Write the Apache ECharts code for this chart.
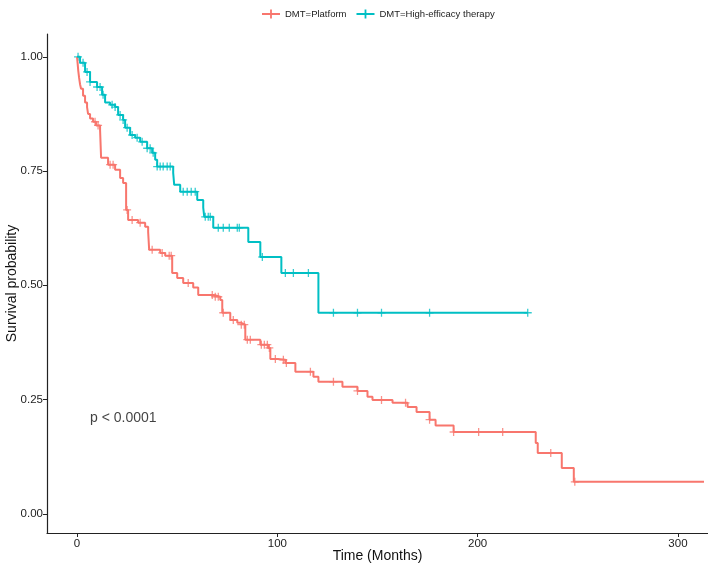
<!DOCTYPE html>
<html>
<head>
<meta charset="utf-8">
<script src="https://cdn.jsdelivr.net/npm/echarts@6/dist/echarts.min.js"></script>
<style>
  html, body { margin: 0; padding: 0; background: #fff; }
  #main { width: 708px; height: 568px; }
</style>
</head>
<body>
<div id="main"></div>
<script>
// Platform group, KM steps (time in months, survival after the event)
const platformTime = [0, 0.3, 0.6, 1, 1.5, 2, 3, 4, 5, 5.5, 6.5, 8, 9.5, 11.5, 12, 15.5, 19, 21.5, 23, 24.5,
  25.5, 30.5, 34, 35.5, 36, 41.5, 44, 47.5, 50, 53, 58, 60.5, 68, 71.5, 72.5, 76.5, 80, 82, 84, 91.5,
  95.5, 96.5, 100, 104, 109, 118, 120.5, 132.5, 140, 145, 147.5, 157.5, 165, 169.5, 176, 179, 188,
  229, 230, 242, 248, 313];
const platformSurv = [1.0, 0.985, 0.97, 0.955, 0.94, 0.93, 0.915, 0.9, 0.89, 0.875, 0.865, 0.858, 0.85, 0.84, 0.779, 0.764, 0.753, 0.735, 0.724, 0.665,
  0.643, 0.637, 0.628, 0.617, 0.578, 0.571, 0.565, 0.527, 0.516, 0.505, 0.495, 0.479, 0.475, 0.468, 0.44, 0.424, 0.418, 0.414, 0.381, 0.37,
  0.363, 0.339, 0.337, 0.33, 0.311, 0.30, 0.289, 0.278, 0.269, 0.256, 0.249, 0.243, 0.234, 0.223, 0.206, 0.193, 0.179,
  0.155, 0.133, 0.10, 0.07, 0.07];
const platformCensor = [9, 10.5, 16.5, 18, 25, 27.5, 31.5, 37.5, 42.5, 46, 47, 55.5, 67.5, 69, 70.5, 73, 78, 82, 83.5,
  85, 86.5, 92, 93.5, 95, 96, 99, 103, 104.5, 116.5, 128, 140, 152, 164, 176, 188, 200.5, 212.5, 236.5, 248.5];

// High-efficacy therapy group
const highTime = [0, 1.5, 4, 6.5, 10, 12.5, 14, 16.5, 19, 20.5, 23, 24, 26.5, 29, 31.5, 35, 37.5, 39, 40, 48,
  48.5, 51.5, 60, 63, 63.5, 68, 85.5, 91.5, 102, 120.5, 225];
const highSurv = [1.0, 0.987, 0.967, 0.945, 0.934, 0.917, 0.90, 0.895, 0.89, 0.873, 0.862, 0.845, 0.829, 0.823, 0.814, 0.80, 0.79, 0.775, 0.76, 0.746,
  0.72, 0.705, 0.687, 0.67, 0.65, 0.626, 0.595, 0.562, 0.527, 0.44, 0.44];
const highCensor = [0.5, 3, 5, 6.5, 10, 11.5, 13, 17.5, 19, 21.5, 23, 25, 27.5, 30, 32.5, 35, 36.5, 38, 40, 41.5,
  43, 45, 46.5, 53, 55, 57, 59, 64, 65.5, 66.5, 70.5, 73, 76, 80, 81, 92.5, 104, 108, 115.5, 128, 140, 152, 176, 225];

const xTicks = [0, 100, 200, 300];
const yTicks = [0, 0.25, 0.5, 0.75, 1];
const pText = "p < 0.0001";
const pPos = [6.5, 0.21];

const RED = "#F8766D";
const TEAL = "#00BFC4";
const FONT = "Liberation Sans, Arial, sans-serif";
const PLUS = "path://M4.2,0H5.8V4.2H10V5.8H5.8V10H4.2V5.8H0V4.2H4.2Z";
const LEGEND_ICON = "path://M0,4H20V6H0Z M9,0H11V10H9Z";

function pairs(ts, ss) {
  return ts.map((t, i) => [t, ss[i]]);
}
// survival value at a censor time = last step at or before it
function censorPoints(cs, ts, ss) {
  return cs.map((c) => {
    let s = ss[0];
    for (let i = 0; i < ts.length; i++) {
      if (ts[i] <= c) s = ss[i];
    }
    return [c, s];
  });
}

const myChart = echarts.init(document.getElementById("main"));
myChart.setOption({
  animation: false,
  textStyle: { fontFamily: FONT },
  legend: {
    top: 4,
    left: 257,
    itemWidth: 18,
    itemHeight: 9,
    itemGap: 10,
    textStyle: { fontSize: 9.5, color: "#222", fontFamily: FONT },
    data: [
      { name: "DMT=Platform", icon: LEGEND_ICON },
      { name: "DMT=High-efficacy therapy", icon: LEGEND_ICON },
    ],
  },
  grid: {
    left: 47,
    right: 0,
    top: 34,
    bottom: 35,
    containLabel: false,
    outerBoundsMode: "none",
  },
  xAxis: {
    type: "value",
    min: -15,
    max: 315,
    name: "Time (Months)",
    nameLocation: "middle",
    nameGap: 16,
    nameMoveOverlap: false,
    nameTextStyle: { fontSize: 14, color: "#111", fontFamily: FONT },
    splitLine: { show: false },
    axisLine: { onZero: false, lineStyle: { color: "#222", width: 1.2 } },
    axisTick: { customValues: xTicks, length: 4, lineStyle: { color: "#222" } },
    axisLabel: { customValues: xTicks, fontSize: 11.5, color: "#222", margin: 5 },
  },
  yAxis: {
    type: "value",
    min: -0.042,
    max: 1.05,
    name: "Survival probability",
    nameLocation: "middle",
    nameGap: 28,
    nameMoveOverlap: false,
    nameTextStyle: { fontSize: 14, color: "#111", fontFamily: FONT },
    splitLine: { show: false },
    axisLine: { show: true, onZero: false, lineStyle: { color: "#222", width: 1.2 } },
    axisTick: { show: true, customValues: yTicks, length: 4, lineStyle: { color: "#222" } },
    axisLabel: {
      customValues: yTicks,
      fontSize: 11.5,
      color: "#222",
      margin: 4,
      formatter: (v) => v.toFixed(2),
    },
  },
  series: [
    {
      name: "DMT=Platform",
      type: "line",
      step: "end",
      showSymbol: false,
      color: RED,
      lineStyle: { width: 2, color: RED },
      data: pairs(platformTime, platformSurv),
    },
    {
      name: "DMT=High-efficacy therapy",
      type: "line",
      step: "end",
      showSymbol: false,
      color: TEAL,
      lineStyle: { width: 2, color: TEAL },
      data: pairs(highTime, highSurv),
    },
    {
      name: "Platform censored",
      type: "scatter",
      symbol: PLUS,
      symbolSize: 8,
      itemStyle: { color: RED },
      data: censorPoints(platformCensor, platformTime, platformSurv),
    },
    {
      name: "High censored",
      type: "scatter",
      symbol: PLUS,
      symbolSize: 8,
      itemStyle: { color: TEAL },
      data: censorPoints(highCensor, highTime, highSurv),
    },
    {
      name: "pvalue",
      type: "scatter",
      symbolSize: 0,
      silent: true,
      label: {
        show: true,
        position: "right",
        distance: 0,
        formatter: pText,
        fontSize: 14,
        color: "#111",
        fontFamily: FONT,
      },
      data: [pPos],
    },
  ],
});
</script>
</body>
</html>
